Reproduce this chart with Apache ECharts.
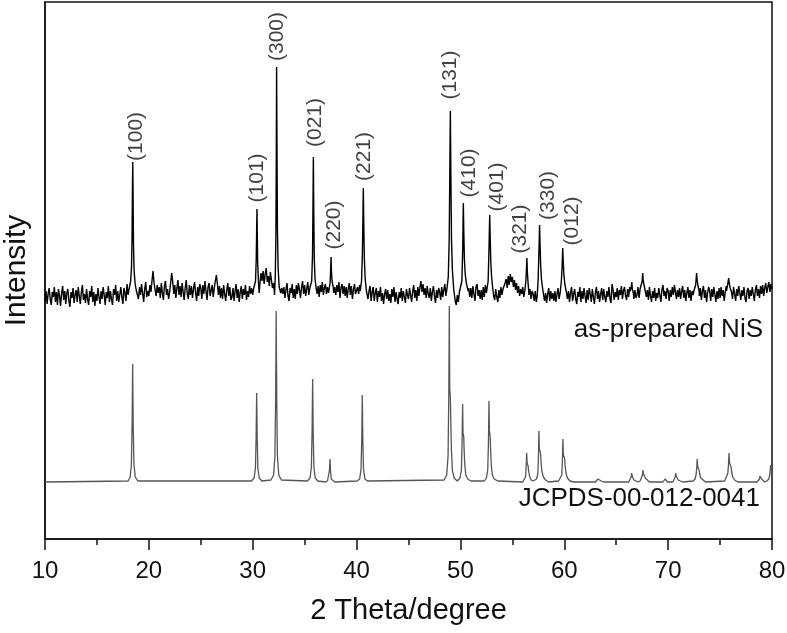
<!DOCTYPE html>
<html><head><meta charset="utf-8">
<script src="https://cdn.jsdelivr.net/npm/echarts@6/dist/echarts.min.js"></script>
<style>html,body{margin:0;padding:0;background:#fff}#c{width:787px;height:633px}</style>
</head><body><div id="c"></div>
<script>
// ---- axis ----
const X_MIN = 10, X_MAX = 80, X_INTERVAL = 10;
const Y_MIN = 0, Y_MAX = 537;

// ---- experimental pattern (as-prepared NiS): background scan, start 10, step 0.1 ----
const expStart = 10, expStep = 0.1;
const expBackground = [
238,248,235,245,251,240,234,247,242,252,
237,247,234,250,243,233,246,253,239,248,
235,246,250,238,232,247,241,251,236,244,
249,237,252,243,235,247,254,239,245,236,
250,240,234,248,242,253,237,247,233,245,
238,251,242,235,248,240,252,244,234,247,
241,253,237,248,240,234,250,244,254,238,
248,237,244,252,242,235,251,246,238,255,
244,248,250,255,260,265,262,256,250,246,
240,252,244,255,246,237,250,257,242,248,
243,254,247,258,268,256,249,243,254,246,
252,241,256,246,239,253,258,244,250,240,
247,256,266,257,245,254,241,251,259,244,
253,242,256,247,239,251,259,245,240,254,
244,253,241,250,257,246,238,252,243,255,
251,240,254,245,258,248,239,252,256,243,
245,254,242,251,258,264,255,244,253,241,
251,240,254,245,238,249,256,243,252,239,
242,251,238,248,255,241,250,237,247,253,
240,250,244,254,239,248,242,253,245,251,
244,251,255,280,300,270,250,258,266,258,
268,255,265,271,257,263,253,267,259,251,
252,245,300,470,300,255,248,240,251,245,
252,241,249,256,243,238,251,246,255,241,
250,240,254,245,256,249,241,252,258,245,
254,243,250,257,244,251,254,247,258,250,
250,255,245,253,242,254,247,257,244,251,
255,245,252,246,260,260,260,252,246,252,
244,254,247,257,241,251,255,245,253,243,
252,241,250,256,244,253,240,249,255,245,
243,252,245,254,248,255,280,260,250,244,
250,240,248,253,238,247,252,238,246,251,
237,248,242,252,238,246,235,245,250,240,
249,238,245,236,250,242,252,237,247,240,
235,247,241,251,238,248,242,236,250,244,
240,251,244,237,248,254,241,249,238,252,
243,252,258,247,255,244,251,241,253,245,
241,251,238,247,253,243,236,249,241,251,
247,239,252,242,249,255,243,250,258,262,
430,360,290,260,246,238,234,244,237,247,
247,258,300,290,270,258,252,248,251,242,
251,241,253,245,238,252,255,243,249,240,
249,239,252,242,254,246,265,300,270,255,
258,250,243,239,250,242,237,249,241,252,
244,250,248,256,260,251,263,254,265,257,
262,252,259,249,256,246,253,243,250,245,
252,242,248,270,278,258,244,250,240,248,
245,238,248,237,250,300,290,265,255,252,
249,238,246,236,245,251,238,248,240,246,
238,248,237,245,251,240,250,270,285,260,
258,250,247,240,248,237,246,252,238,245,
250,240,235,247,242,252,237,248,240,251,
243,236,249,239,251,245,237,250,242,235,
247,252,240,248,237,245,251,239,250,242,
237,248,242,252,240,236,255,249,239,247,
242,251,239,249,244,253,240,248,252,243,
239,250,242,252,246,257,248,240,249,241,
244,252,241,250,252,266,256,250,249,242,
249,239,252,243,237,248,241,251,238,246,
241,251,244,237,249,254,243,248,240,251,
248,238,249,242,252,244,254,256,240,249,
242,251,240,248,253,241,249,238,246,252,
241,249,238,248,244,249,256,266,254,247,
243,251,239,248,253,241,249,237,246,252,
248,238,250,242,252,244,237,248,240,251,
241,252,243,249,238,247,253,258,253,250,
251,249,240,252,245,238,250,243,253,246,
239,249,243,252,241,237,248,251,240,249,
243,252,245,238,249,254,243,250,241,253,
245,254,243,251,256,246,252,257,247,255,
250
];

// experimental diffraction peaks, read point by point
const expPeaks = [
  [[18.1,250],[18.25,258],[18.33,272],[18.38,300],[18.42,350],[18.45,377],[18.48,345],[18.52,295],[18.58,268],[18.68,255],[18.8,248]],
  [[30.15,250],[30.27,258],[30.34,280],[30.38,310],[30.41,330],[30.44,305],[30.48,275],[30.55,258],[30.62,246],[30.7,256]],
  [[32.02,256],[32.1,244],[32.17,262],[32.23,300],[32.27,380],[32.3,472],[32.34,390],[32.38,310],[32.45,270],[32.55,252],[32.7,246]],
  [[35.55,250],[35.68,258],[35.76,285],[35.8,330],[35.84,382],[35.88,325],[35.93,280],[36.0,260],[36.12,250]],
  [[37.35,248],[37.45,256],[37.5,268],[37.54,282],[37.58,268],[37.64,258],[37.75,252]],
  [[40.35,248],[40.48,258],[40.56,285],[40.61,320],[40.65,351],[40.69,318],[40.75,280],[40.83,260],[40.95,248]],
  [[48.7,250],[48.83,262],[48.92,300],[48.98,370],[49.03,428],[49.08,365],[49.14,300],[49.22,270],[49.35,250]],
  [[50.02,248],[50.14,258],[50.22,290],[50.25,315],[50.28,336],[50.32,310],[50.38,280],[50.46,265],[50.58,255],[50.75,248]],
  [[52.55,248],[52.67,258],[52.75,290],[52.79,310],[52.82,324],[52.86,305],[52.92,278],[53.0,262],[53.12,250]],
  [[56.2,248],[56.3,258],[56.36,270],[56.4,281],[56.44,268],[56.5,258],[56.6,244]],
  [[57.38,242],[57.48,258],[57.55,285],[57.59,300],[57.62,314],[57.66,298],[57.72,275],[57.8,260],[57.92,250]],
  [[59.6,246],[59.72,258],[59.79,272],[59.82,282],[59.85,291],[59.89,280],[59.95,266],[60.05,255],[60.2,247]],
  [[66.35,248],[66.45,252],[66.5,257],[66.55,250],[66.65,246]],
  [[67.42,250],[67.5,258],[67.55,266],[67.6,258],[67.68,254],[67.8,248]],
  [[72.55,248],[72.65,254],[72.71,262],[72.74,266],[72.78,260],[72.86,254],[72.98,248]],
  [[75.62,248],[75.72,254],[75.79,258],[75.83,261],[75.88,256],[75.97,251],[76.1,247]]
];

// ---- standard pattern JCPDS-00-012-0041 ----
const refBaseline = 57;
const refPeaks = [
  [[18.0,58],[18.2,62],[18.32,75],[18.39,116],[18.44,175],[18.49,116],[18.56,75],[18.69,62],[18.94,58]],
  [[29.88,58],[30.13,61],[30.26,70],[30.33,102],[30.38,146],[30.43,102],[30.5,70],[30.63,61],[30.88,58]],
  [[31.76,59],[32.01,64],[32.14,83],[32.21,143],[32.26,228],[32.31,143],[32.38,83],[32.51,64],[32.76,59]],
  [[35.27,58],[35.52,61],[35.65,72],[35.72,109],[35.77,160],[35.82,109],[35.89,72],[36.02,61],[36.27,58]],
  [[37.0,57],[37.2,58],[37.32,60],[37.39,69],[37.44,80],[37.49,69],[37.56,60],[37.69,58],[37.9,57]],
  [[40.05,58],[40.3,60],[40.43,70],[40.5,100],[40.55,144],[40.6,100],[40.67,70],[40.8,60],[41.05,58]],
  [[48.43,59],[48.68,64],[48.81,83],[48.88,145],[48.93,233],[48.97,150],[49.03,142],[49.07,120],[49.13,90],[49.23,68],[49.4,61],[49.7,58]],
  [[49.8,58],[49.96,61],[50.09,69],[50.16,96],[50.21,135],[50.25,106],[50.32,102],[50.36,88],[50.42,74],[50.52,64],[50.7,60],[51.0,58]],
  [[52.3,58],[52.5,61],[52.63,69],[52.7,97],[52.75,138],[52.79,108],[52.87,102],[52.91,88],[52.97,74],[53.07,64],[53.25,60],[53.6,58]],
  [[56.0,57],[56.15,59],[56.27,62],[56.33,72],[56.38,86],[56.42,76],[56.52,73],[56.57,68],[56.65,63],[56.8,59],[57.0,58]],
  [[57.15,58],[57.33,60],[57.45,65],[57.51,82],[57.56,108],[57.6,90],[57.71,86],[57.76,77],[57.84,68],[57.98,62],[58.2,59],[58.5,57]],
  [[59.45,58],[59.64,60],[59.76,64],[59.82,79],[59.87,100],[59.91,84],[60.03,81],[60.08,73],[60.16,66],[60.3,61],[60.55,58],[60.9,57]],
  [[63.0,57],[63.18,58],[63.24,60],[63.28,62],[63.33,61],[63.4,59],[63.55,58],[63.8,57]],
  [[66.2,57],[66.38,59],[66.44,62],[66.49,66],[66.54,63],[66.62,62],[66.7,59],[66.9,58],[67.1,57]],
  [[67.3,58],[67.47,60],[67.53,64],[67.58,69],[67.63,65],[67.72,64],[67.8,61],[67.95,59],[68.2,57]],
  [[69.5,57],[69.65,58],[69.7,60],[69.78,59],[69.95,57]],
  [[70.45,57],[70.62,59],[70.68,62],[70.73,66],[70.78,63],[70.88,62],[70.96,59],[71.15,58],[71.4,57]],
  [[72.4,58],[72.6,60],[72.7,65],[72.76,72],[72.8,80],[72.85,72],[72.98,69],[73.04,65],[73.14,61],[73.3,59],[73.6,57]],
  [[75.45,58],[75.64,60],[75.75,66],[75.81,74],[75.86,86],[75.91,76],[76.06,72],[76.12,67],[76.22,62],[76.4,59],[76.7,57]],
  [[78.55,57],[78.72,58],[78.79,60],[78.84,63],[78.9,61],[79.0,60],[79.1,58],[79.3,57]],
  [[79.5,58],[79.7,60],[79.8,65],[79.87,74],[79.93,72],[80.0,70]]
];

// ---- peak index labels (label centre, data coordinates) ----
const hklLabels = ['(100)','(101)','(300)','(021)','(220)','(221)','(131)','(410)','(401)','(321)','(330)','(012)'];
const hklLabelX = [18.76,30.41,32.31,36.0,37.83,40.71,49.06,50.82,53.55,55.73,58.46,60.77];
const hklLabelY = [402.6,361.1,502.5,416.6,314,382.6,464,366.1,352,310,343.6,318.1];

const seriesNames = ['as-prepared NiS', 'JCPDS-00-012-0041'];

function buildExp(){
  const pts = [];
  for (let i = 0; i < expBackground.length; i++) {
    const x = +(expStart + i * expStep).toFixed(2);
    if (expPeaks.some(c => x >= c[0][0] && x <= c[c.length-1][0])) continue;
    pts.push([x, expBackground[i]]);
  }
  expPeaks.forEach(c => c.forEach(p => pts.push(p)));
  pts.sort((a, b) => a[0] - b[0]);
  return pts;
}
function buildRef(){
  const pts = [[X_MIN, refBaseline]];
  refPeaks.forEach(c => c.forEach(p => pts.push(p)));
  return pts;
}

const FONT = '"Liberation Sans", Arial, Helvetica, sans-serif';
const chart = echarts.init(document.getElementById('c'), null, {renderer:'canvas'});
chart.setOption({
  animation: false,
  backgroundColor: '#fff',
  grid: {left: 45, right: 15, top: 2, bottom: 94, show: true, borderColor: '#111', borderWidth: 1.5,
         containLabel: false, outerBoundsMode: 'none'},
  xAxis: {
    type: 'value', min: X_MIN, max: X_MAX, interval: X_INTERVAL,
    name: '2 Theta/degree', nameLocation: 'middle', nameGap: 57,
    nameTextStyle: {fontFamily: FONT, fontSize: 29, color: '#111'},
    axisLine: {show: true, lineStyle: {color: '#111', width: 1.5}},
    axisTick: {show: true, inside: false, length: 11, lineStyle: {color: '#111', width: 1.5}},
    minorTick: {show: true, splitNumber: 2, length: 6, lineStyle: {color: '#111', width: 1.5}},
    axisLabel: {fontFamily: FONT, fontSize: 24, color: '#111', margin: 20},
    splitLine: {show: false}, minorSplitLine: {show: false}
  },
  yAxis: {
    type: 'value', min: Y_MIN, max: Y_MAX,
    name: 'Intensity', nameLocation: 'middle', nameGap: 13, nameRotate: 90,
    nameTextStyle: {fontFamily: FONT, fontSize: 30, color: '#111'},
    axisLine: {show: true, lineStyle: {color: '#111', width: 1.5}},
    axisTick: {show: false}, axisLabel: {show: false}, splitLine: {show: false}
  },
  series: [
    {type: 'line', name: seriesNames[1], data: buildRef(), showSymbol: false, symbol: 'none',
     lineStyle: {color: '#555', width: 1.3}, z: 2, silent: true},
    {type: 'line', name: seriesNames[0], data: buildExp(), showSymbol: false, symbol: 'none',
     lineStyle: {color: '#000', width: 1.4}, z: 3, silent: true},
    {type: 'scatter', symbolSize: 1, itemStyle: {color: 'rgba(0,0,0,0)'}, silent: true, z: 4,
     data: hklLabels.map((t, i) => ({name: t, value: [hklLabelX[i], hklLabelY[i]]})),
     label: {show: true, formatter: '{b}', position: 'inside', rotate: 90, align: 'center', verticalAlign: 'middle',
             fontFamily: FONT, fontSize: 21, color: '#111'}}
  ],
  graphic: [
    {type: 'text', x: 763, y: 330, style: {text: seriesNames[0], textAlign: 'right', textVerticalAlign: 'middle', fontFamily: FONT, fontSize: 26, fill: '#111'}},
    {type: 'text', x: 760, y: 499, style: {text: seriesNames[1], textAlign: 'right', textVerticalAlign: 'middle', fontFamily: FONT, fontSize: 26, fill: '#111'}}
  ]
});
</script></body></html>
